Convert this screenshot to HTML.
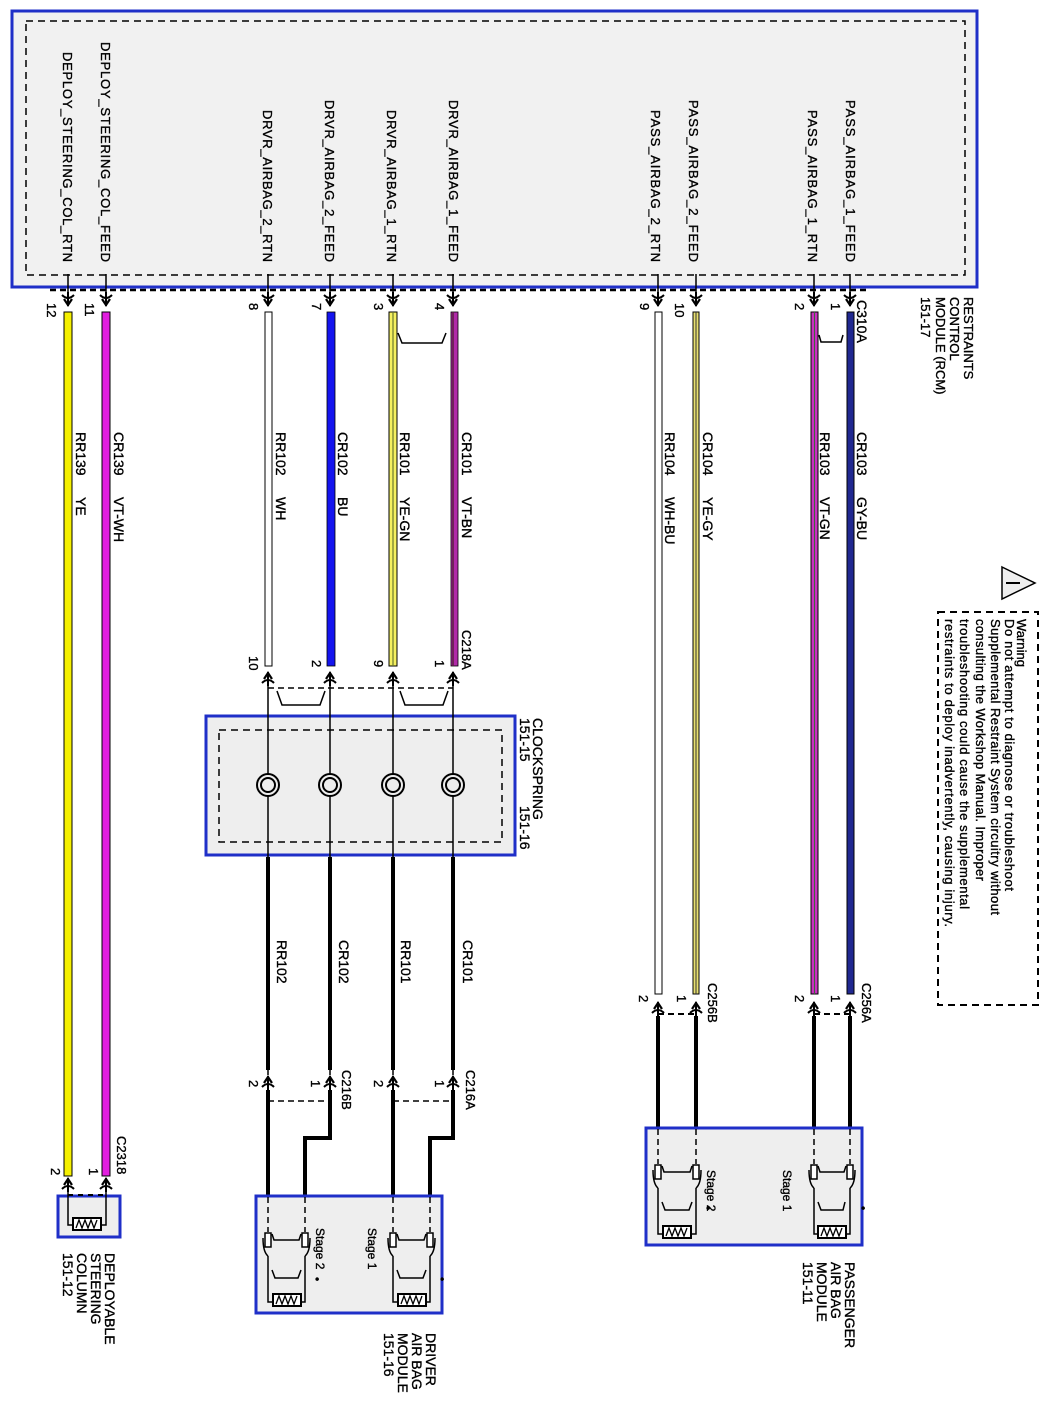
<!DOCTYPE html>
<html><head><meta charset="utf-8"><style>
html,body{margin:0;padding:0;background:#fff}
svg{display:block}
text{font-family:"Liberation Sans",sans-serif;fill:#000;stroke:#000;stroke-width:0.35}
</style></head><body>
<svg width="1050" height="1404" viewBox="0 0 1050 1404" xmlns="http://www.w3.org/2000/svg">
<defs>
<g id="cd"><line x1="0" y1="-6" x2="0" y2="8" stroke="#000" stroke-width="2"/><path d="M-6,-3 Q0,3 6,-3" fill="none" stroke="#000" stroke-width="2"/><path d="M-4,1 L0,7 L4,1" fill="none" stroke="#000" stroke-width="2.2"/></g>
<g id="cu"><line x1="0" y1="-8" x2="0" y2="6" stroke="#000" stroke-width="2"/><path d="M-6,3 Q0,-3 6,3" fill="none" stroke="#000" stroke-width="2"/><path d="M-4,-1 L0,-7 L4,-1" fill="none" stroke="#000" stroke-width="2.2"/></g>
<g id="res"><rect x="-14" y="-6" width="28" height="12" fill="#fff" stroke="#000" stroke-width="2"/><path d="M-11,4 L-8,-4 L-5,4 L-2,-4 L1,4 L4,-4 L7,4 L10,-4" fill="none" stroke="#000" stroke-width="1.3"/></g>
</defs>

<rect x="12" y="11" width="965" height="276" fill="#f1f1f1" stroke="#1f2fc8" stroke-width="3"/>
<rect x="26" y="21" width="939" height="254" fill="none" stroke="#000" stroke-width="1.5" stroke-dasharray="7,5"/>
<line x1="50" y1="290" x2="868" y2="290" stroke="#000" stroke-width="2.5" stroke-dasharray="6,4"/>

<g font-size="13">
<text transform="translate(63,262) rotate(90)" text-anchor="end" textLength="210">DEPLOY_STEERING_COL_RTN</text>
<text transform="translate(101,262) rotate(90)" text-anchor="end" textLength="220">DEPLOY_STEERING_COL_FEED</text>
<text transform="translate(263,262) rotate(90)" text-anchor="end" textLength="152">DRVR_AIRBAG_2_RTN</text>
<text transform="translate(325,262) rotate(90)" text-anchor="end" textLength="162">DRVR_AIRBAG_2_FEED</text>
<text transform="translate(387,262) rotate(90)" text-anchor="end" textLength="152">DRVR_AIRBAG_1_RTN</text>
<text transform="translate(449,262) rotate(90)" text-anchor="end" textLength="162">DRVR_AIRBAG_1_FEED</text>
<text transform="translate(651,262) rotate(90)" text-anchor="end" textLength="152">PASS_AIRBAG_2_RTN</text>
<text transform="translate(689,262) rotate(90)" text-anchor="end" textLength="162">PASS_AIRBAG_2_FEED</text>
<text transform="translate(808,262) rotate(90)" text-anchor="end" textLength="152">PASS_AIRBAG_1_RTN</text>
<text transform="translate(846,262) rotate(90)" text-anchor="end" textLength="162">PASS_AIRBAG_1_FEED</text>
</g>
<g stroke="#000" stroke-width="1.5">
<line x1="68" y1="274" x2="68" y2="292"/><line x1="106" y1="274" x2="106" y2="292"/>
<line x1="268" y1="274" x2="268" y2="292"/><line x1="330" y1="274" x2="330" y2="292"/>
<line x1="393" y1="274" x2="393" y2="292"/><line x1="453" y1="274" x2="453" y2="292"/>
<line x1="658" y1="274" x2="658" y2="292"/><line x1="696" y1="274" x2="696" y2="292"/>
<line x1="814" y1="274" x2="814" y2="292"/><line x1="850" y1="274" x2="850" y2="292"/>
</g>
<use href="#cd" x="68" y="298"/><use href="#cd" x="106" y="298"/><use href="#cd" x="268" y="298"/><use href="#cd" x="330" y="298"/><use href="#cd" x="393" y="298"/><use href="#cd" x="453" y="298"/><use href="#cd" x="658" y="298"/><use href="#cd" x="696" y="298"/><use href="#cd" x="814" y="298"/><use href="#cd" x="850" y="298"/>
<g font-size="13">
<text transform="translate(47,303) rotate(90)">12</text>
<text transform="translate(85,303) rotate(90)">11</text>
<text transform="translate(249,303) rotate(90)">8</text>
<text transform="translate(312,303) rotate(90)">7</text>
<text transform="translate(374,303) rotate(90)">3</text>
<text transform="translate(435,303) rotate(90)">4</text>
<text transform="translate(640,303) rotate(90)">9</text>
<text transform="translate(675,303) rotate(90)">10</text>
<text transform="translate(795,303) rotate(90)">2</text>
<text transform="translate(831,303) rotate(90)">1</text>
<text transform="translate(857,300) rotate(90)" font-size="14">C310A</text>
</g>
<g font-size="13">
<text transform="translate(964,297) rotate(90)">RESTRAINTS</text>
<text transform="translate(950,297) rotate(90)">CONTROL</text>
<text transform="translate(936,297) rotate(90)">MODULE (RCM)</text>
<text transform="translate(921,297) rotate(90)">151-17</text>
</g>
<path d="M398,333 L402,343 L442,343 L446,333" fill="none" stroke="#000" stroke-width="1.5"/>
<path d="M819,335 L821,342 L841,342 L843,335" fill="none" stroke="#000" stroke-width="1.5"/>

<g>
<rect x="64" y="312" width="8" height="864" fill="#f5f000" stroke="#000" stroke-width="1"/>
<rect x="102" y="312" width="8" height="864" fill="#e21ddf" stroke="#000" stroke-width="1"/>
<rect x="265" y="312" width="7" height="354" fill="#fff" stroke="#000" stroke-width="1"/>
<rect x="327" y="312" width="8" height="354" fill="#1414ee" stroke="#000" stroke-width="0.8"/>
<rect x="389" y="312" width="8" height="354" fill="#f5f060" stroke="#000" stroke-width="1"/>
<line x1="393" y1="312" x2="393" y2="666" stroke="#6a7a30" stroke-width="1.2"/>
<rect x="451" y="312" width="7" height="354" fill="#b02aa8" stroke="#000" stroke-width="0.8"/>
<line x1="453" y1="312" x2="453" y2="666" stroke="#5a2040" stroke-width="1.5"/>
<rect x="655" y="312" width="7" height="682" fill="#fff" stroke="#000" stroke-width="1"/>
<rect x="693" y="312" width="6" height="682" fill="#e8e070" stroke="#000" stroke-width="1"/>
<line x1="696" y1="312" x2="696" y2="994" stroke="#333" stroke-width="1"/>
<rect x="811" y="312" width="7" height="682" fill="#c830c0" stroke="#000" stroke-width="1"/>
<line x1="814.5" y1="312" x2="814.5" y2="994" stroke="#3a6a3a" stroke-width="1"/>
<rect x="847" y="312" width="7" height="682" fill="#202890" stroke="#000" stroke-width="1"/>
</g>
<g font-size="14">
<text transform="translate(114,432) rotate(90)">CR139</text><text transform="translate(114,497) rotate(90)">VT-WH</text>
<text transform="translate(76,432) rotate(90)">RR139</text><text transform="translate(76,497) rotate(90)">YE</text>
<text transform="translate(276,432) rotate(90)">RR102</text><text transform="translate(276,497) rotate(90)">WH</text>
<text transform="translate(338,432) rotate(90)">CR102</text><text transform="translate(338,497) rotate(90)">BU</text>
<text transform="translate(400,432) rotate(90)">RR101</text><text transform="translate(400,497) rotate(90)">YE-GN</text>
<text transform="translate(462,432) rotate(90)">CR101</text><text transform="translate(462,497) rotate(90)">VT-BN</text>
<text transform="translate(665,432) rotate(90)">RR104</text><text transform="translate(665,497) rotate(90)">WH-BU</text>
<text transform="translate(703,432) rotate(90)">CR104</text><text transform="translate(703,497) rotate(90)">YE-GY</text>
<text transform="translate(820,432) rotate(90)">RR103</text><text transform="translate(820,497) rotate(90)">VT-GN</text>
<text transform="translate(857,432) rotate(90)">CR103</text><text transform="translate(857,497) rotate(90)">GY-BU</text>
</g>

<use href="#cu" x="268" y="680"/><use href="#cu" x="330" y="680"/><use href="#cu" x="393" y="680"/><use href="#cu" x="453" y="680"/>
<line x1="268" y1="688" x2="453" y2="688" stroke="#000" stroke-width="1.5" stroke-dasharray="6,4"/>
<path d="M277,691 L282,705 L320,705 L325,691" fill="none" stroke="#000" stroke-width="1.5"/>
<path d="M400,691 L405,705 L443,705 L448,691" fill="none" stroke="#000" stroke-width="1.5"/>
<g font-size="13">
<text transform="translate(249,656) rotate(90)">10</text>
<text transform="translate(312,660) rotate(90)">2</text>
<text transform="translate(374,660) rotate(90)">9</text>
<text transform="translate(435,660) rotate(90)">1</text>
<text transform="translate(462,630) rotate(90)">C218A</text>
</g>

<rect x="206" y="716" width="309" height="139" fill="#eeeeee" stroke="#1f2fc8" stroke-width="3"/>
<rect x="219" y="730" width="283" height="112" fill="none" stroke="#000" stroke-width="1.5" stroke-dasharray="7,5"/>
<g stroke="#000" fill="none">
<line x1="268" y1="684" x2="268" y2="1075" stroke-width="1.5"/>
<line x1="330" y1="684" x2="330" y2="1075" stroke-width="1.5"/>
<line x1="393" y1="684" x2="393" y2="1075" stroke-width="1.5"/>
<line x1="453" y1="684" x2="453" y2="1075" stroke-width="1.5"/>
<g stroke-width="4"><line x1="268" y1="857" x2="268" y2="1070"/><line x1="330" y1="857" x2="330" y2="1070"/><line x1="393" y1="857" x2="393" y2="1070"/><line x1="453" y1="857" x2="453" y2="1070"/></g>
<g stroke-width="2"><circle cx="268" cy="785" r="11" fill="#eee"/><circle cx="268" cy="785" r="7"/><circle cx="330" cy="785" r="11" fill="#eee"/><circle cx="330" cy="785" r="7"/><circle cx="393" cy="785" r="11" fill="#eee"/><circle cx="393" cy="785" r="7"/><circle cx="453" cy="785" r="11" fill="#eee"/><circle cx="453" cy="785" r="7"/></g>
</g>
<g font-size="14">
<text transform="translate(533,718) rotate(90)">CLOCKSPRING</text>
<text transform="translate(520,718) rotate(90)">151-15</text>
<text transform="translate(520,806) rotate(90)">151-16</text>
</g>
<g font-size="14">
<text transform="translate(277,940) rotate(90)">RR102</text>
<text transform="translate(339,940) rotate(90)">CR102</text>
<text transform="translate(401,940) rotate(90)">RR101</text>
<text transform="translate(463,940) rotate(90)">CR101</text>
</g>

<use href="#cu" x="268" y="1084"/><use href="#cu" x="330" y="1084"/><use href="#cu" x="393" y="1084"/><use href="#cu" x="453" y="1084"/>
<line x1="268" y1="1101" x2="330" y2="1101" stroke="#000" stroke-width="1.5" stroke-dasharray="6,4"/>
<line x1="393" y1="1101" x2="453" y2="1101" stroke="#000" stroke-width="1.5" stroke-dasharray="6,4"/>
<g font-size="13">
<text transform="translate(249,1080) rotate(90)">2</text>
<text transform="translate(311,1080) rotate(90)">1</text>
<text transform="translate(374,1080) rotate(90)">2</text>
<text transform="translate(435,1080) rotate(90)">1</text>
<text transform="translate(342,1070) rotate(90)">C216B</text>
<text transform="translate(466,1070) rotate(90)">C216A</text>
</g>
<g stroke="#000" stroke-width="4" fill="none">
<path d="M268,1090 L268,1196"/><path d="M330,1090 L330,1138 L305,1138 L305,1196"/>
<path d="M393,1090 L393,1196"/><path d="M453,1090 L453,1138 L430,1138 L430,1196"/>
</g>

<rect x="256" y="1196" width="186" height="117" fill="#eeeeee" stroke="#1f2fc8" stroke-width="3"/>
<g stroke="#000" fill="none" stroke-width="1.5">
<g>
<line x1="268" y1="1197" x2="268" y2="1232" stroke-dasharray="6,4"/>
<line x1="305" y1="1197" x2="305" y2="1232" stroke-dasharray="6,4"/>
<rect x="265" y="1233" width="6" height="14" fill="#fff"/><rect x="302" y="1233" width="6" height="14" fill="#fff"/>
<path d="M263,1238 Q263,1252 268,1256 M310,1238 Q310,1252 305,1256"/>
<path d="M272,1234 L274,1240 L299,1240 L301,1234"/>
<path d="M268,1256 L268,1302 L282,1302 M305,1256 L305,1302 L291,1302"/>
<path d="M272,1270 L275,1278 L298,1278 L301,1270"/>
</g>
<g transform="translate(125,0)">
<line x1="268" y1="1197" x2="268" y2="1232" stroke-dasharray="6,4"/>
<line x1="305" y1="1197" x2="305" y2="1232" stroke-dasharray="6,4"/>
<rect x="265" y="1233" width="6" height="14" fill="#fff"/><rect x="302" y="1233" width="6" height="14" fill="#fff"/>
<path d="M263,1238 Q263,1252 268,1256 M310,1238 Q310,1252 305,1256"/>
<path d="M272,1234 L274,1240 L299,1240 L301,1234"/>
<path d="M268,1256 L268,1302 L282,1302 M305,1256 L305,1302 L291,1302"/>
<path d="M272,1270 L275,1278 L298,1278 L301,1270"/>
</g>
</g>
<use href="#res" x="287" y="1300"/><use href="#res" x="412" y="1300"/>
<g font-size="12">
<text transform="translate(316,1228) rotate(90)">Stage 2</text>
<text transform="translate(368,1228) rotate(90)">Stage 1</text>
<text transform="translate(313,1277) rotate(90)">•</text>
<text transform="translate(438,1277) rotate(90)">•</text>
</g>
<g font-size="14">
<text transform="translate(426,1333) rotate(90)">DRIVER</text>
<text transform="translate(412,1333) rotate(90)">AIR BAG</text>
<text transform="translate(398,1333) rotate(90)">MODULE</text>
<text transform="translate(384,1333) rotate(90)">151-16</text>
</g>

<use href="#cu" x="68" y="1186"/><use href="#cu" x="106" y="1186"/>
<rect x="58" y="1196" width="62" height="41" fill="#eeeeee" stroke="#1f2fc8" stroke-width="3"/>
<line x1="68" y1="1195" x2="106" y2="1195" stroke="#000" stroke-width="2" stroke-dasharray="5,5"/>
<path d="M68,1190 L68,1225 L76,1225 M106,1190 L106,1225 L98,1225" fill="none" stroke="#000" stroke-width="1.5"/>
<use href="#res" x="87" y="1224"/>
<g font-size="13">
<text transform="translate(51,1168) rotate(90)">2</text>
<text transform="translate(89,1168) rotate(90)">1</text>
<text transform="translate(117,1136) rotate(90)">C2318</text>
</g>
<g font-size="14">
<text transform="translate(105,1253) rotate(90)">DEPLOYABLE</text>
<text transform="translate(91,1253) rotate(90)">STEERING</text>
<text transform="translate(77,1253) rotate(90)">COLUMN</text>
<text transform="translate(63,1253) rotate(90)">151-12</text>
</g>

<use href="#cu" x="658" y="1010"/><use href="#cu" x="696" y="1010"/><use href="#cu" x="814" y="1010"/><use href="#cu" x="850" y="1010"/>
<line x1="658" y1="1014" x2="696" y2="1014" stroke="#000" stroke-width="2" stroke-dasharray="6,4"/>
<line x1="814" y1="1014" x2="850" y2="1014" stroke="#000" stroke-width="2" stroke-dasharray="6,4"/>
<g font-size="13">
<text transform="translate(639,995) rotate(90)">2</text>
<text transform="translate(677,995) rotate(90)">1</text>
<text transform="translate(795,995) rotate(90)">2</text>
<text transform="translate(831,995) rotate(90)">1</text>
<text transform="translate(708,983) rotate(90)">C256B</text>
<text transform="translate(862,983) rotate(90)">C256A</text>
</g>
<g stroke="#000" stroke-width="4"><line x1="658" y1="1016" x2="658" y2="1128"/><line x1="696" y1="1016" x2="696" y2="1128"/><line x1="814" y1="1016" x2="814" y2="1128"/><line x1="850" y1="1016" x2="850" y2="1128"/></g>
<rect x="646" y="1128" width="216" height="117" fill="#eeeeee" stroke="#1f2fc8" stroke-width="3"/>
<g stroke="#000" fill="none" stroke-width="1.5">
<g transform="translate(390,-68)">
<line x1="268" y1="1197" x2="268" y2="1232" stroke-dasharray="6,4"/>
<line x1="306" y1="1197" x2="306" y2="1232" stroke-dasharray="6,4"/>
<rect x="265" y="1233" width="6" height="14" fill="#fff"/><rect x="303" y="1233" width="6" height="14" fill="#fff"/>
<path d="M263,1238 Q263,1252 268,1256 M311,1238 Q311,1252 306,1256"/>
<path d="M272,1234 L274,1240 L300,1240 L302,1234"/>
<path d="M268,1256 L268,1302 L282,1302 M306,1256 L306,1302 L292,1302"/>
<path d="M272,1270 L275,1278 L299,1278 L302,1270"/>
</g>
<g transform="translate(546,-68)">
<line x1="268" y1="1197" x2="268" y2="1232" stroke-dasharray="6,4"/>
<line x1="304" y1="1197" x2="304" y2="1232" stroke-dasharray="6,4"/>
<rect x="265" y="1233" width="6" height="14" fill="#fff"/><rect x="301" y="1233" width="6" height="14" fill="#fff"/>
<path d="M263,1238 Q263,1252 268,1256 M309,1238 Q309,1252 304,1256"/>
<path d="M272,1234 L274,1240 L298,1240 L300,1234"/>
<path d="M268,1256 L268,1302 L282,1302 M304,1256 L304,1302 L290,1302"/>
<path d="M272,1270 L275,1278 L297,1278 L299,1270"/>
</g>
</g>
<use href="#res" x="677" y="1232"/><use href="#res" x="832" y="1232"/>
<g font-size="12">
<text transform="translate(707,1170) rotate(90)">Stage 2</text>
<text transform="translate(783,1170) rotate(90)">Stage 1</text>
<text transform="translate(704,1206) rotate(90)">•</text>
<text transform="translate(859,1206) rotate(90)">•</text>
</g>
<g font-size="14">
<text transform="translate(845,1262) rotate(90)">PASSENGER</text>
<text transform="translate(831,1262) rotate(90)">AIR BAG</text>
<text transform="translate(817,1262) rotate(90)">MODULE</text>
<text transform="translate(803,1262) rotate(90)">151-11</text>
</g>

<path d="M1002,567 L1035,583 L1002,599 Z" fill="#eeeeee" stroke="#000" stroke-width="1.5"/>
<line x1="1006" y1="583" x2="1020" y2="583" stroke="#000" stroke-width="2"/>
<rect x="938" y="612" width="100" height="393" fill="none" stroke="#000" stroke-width="2" stroke-dasharray="7,5"/>
<g font-size="13">
<text transform="translate(1017,619) rotate(90)">Warning</text>
<text transform="translate(1005,619) rotate(90)" textLength="272">Do not attempt to diagnose or troubleshoot</text>
<text transform="translate(991,619) rotate(90)" textLength="296">Supplemental Restraint System circuitry without</text>
<text transform="translate(976,619) rotate(90)" textLength="262">consulting the Workshop Manual. Improper</text>
<text transform="translate(960,619) rotate(90)" textLength="290">troubleshooting could cause the supplemental</text>
<text transform="translate(945,619) rotate(90)" textLength="308">restraints to deploy inadvertently, causing injury.</text>
</g>
</svg>
</body></html>
